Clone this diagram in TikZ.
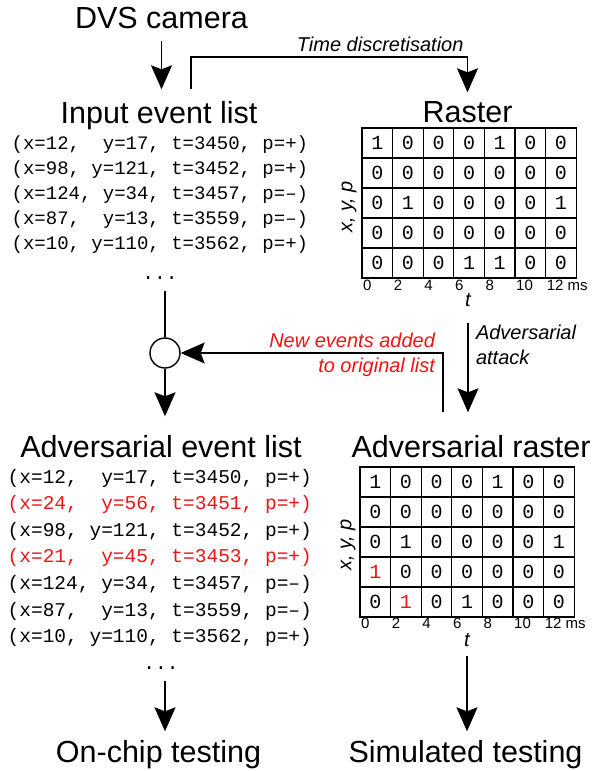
\documentclass[tikz,border=0pt]{standalone}
\usepackage{fontspec}
\setmainfont{Liberation Sans}
\setmonofont{Liberation Mono}
\usetikzlibrary{arrows.meta,positioning}
\definecolor{addred}{RGB}{238,20,20}

\begin{document}
\begin{tikzpicture}[x=1pt,y=-1pt,line width=1.4pt,>={Stealth[length=24pt,width=21pt,inset=4pt]},
	title/.style={font=\fontsize{30.5}{32}\selectfont,anchor=base,inner sep=0pt,text height=22pt,text depth=6.4pt},
	evt/.style={font=\fontsize{19.5}{22}\ttfamily,anchor=base west,inner sep=0pt},
	cell/.style={draw,line width=1.2pt,minimum width=30.6pt,minimum height=30pt,inner sep=0pt,font=\fontsize{20}{20}\ttfamily},
	tick/.style={font=\fontsize{15}{15}\selectfont,anchor=west,inner sep=0.5pt},
	axis/.style={font=\fontsize{20}{20}\itshape,inner sep=0pt},
	note/.style={font=\fontsize{20}{25}\itshape,align=left}]

	\useasboundingbox (0,0) rectangle (592,771);

	\node[title] (cam) at (161.5,28) {DVS camera};
	\node[title] (intitle) at (159,123) {Input event list};
	\node[title] (raster) at (467.5,122) {Raster};
	\node[title] (advtitle) at (161,457) {Adversarial event list};
	\node[title] (advraster) at (471,457) {Adversarial raster};
	\node[title] (onchip) at (158.5,762) {On-chip testing};
	\node[title] (simtest) at (465.5,762) {Simulated testing};

	\foreach \txt [count=\i] in {{(x=12,~~y=17, t=3450, p=+)},{(x=98, y=121, t=3452, p=+)},{(x=124, y=34, t=3457, p=–)},{(x=87,~~y=13, t=3559, p=–)},{(x=10, y=110, t=3562, p=+)}}
		\node[evt,font=\fontsize{19}{22}\ttfamily] (in-\i) at (11,149+25*\i-25) {\txt};
	\node[evt,anchor=base] (dots-in) at (160,279) {...};

	\foreach \txt [count=\i] in {{(x=12,~~y=17, t=3450, p=+)},{\color{addred}(x=24,~~y=56, t=3451, p=+)},{(x=98, y=121, t=3452, p=+)},{\color{addred}(x=21,~~y=45, t=3453, p=+)},{(x=124, y=34, t=3457, p=–)},{(x=87,~~y=13, t=3559, p=–)},{(x=10, y=110, t=3562, p=+)}}
		\node[evt] (adv-\i) at (7,483+26.6*\i-26.6) {\txt};
	\node[evt,anchor=base] (dots-adv) at (161,669) {...};

	\foreach \row [count=\r] in {{1,0,0,0,1,0,0},{0,0,0,0,0,0,0},{0,1,0,0,0,0,1},{0,0,0,0,0,0,0},{0,0,0,1,1,0,0}}
		\foreach \v [count=\c] in \row
			\node[cell] (ras-\r-\c) at (362+30.6*\c-15.3,128+30*\r-15) {\v};
	\foreach \lab [count=\k from 0] in {0,2,4,6,8,10,12 ms}
		\node[tick] (tk-\k) at (362+30.6*\k,285) {\lab};
	\node[axis,rotate=90] (ry) at (349,207) {x, y, p};
	\node[axis,anchor=base] (rt) at (468,306) {t};

	\foreach \row [count=\r] in {{1,0,0,0,1,0,0},{0,0,0,0,0,0,0},{0,1,0,0,0,0,1},{\textcolor{addred}{1},0,0,0,0,0,0},{0,\textcolor{addred}{1},0,1,0,0,0}}
		\foreach \v [count=\c] in \row
			\node[cell] (adr-\r-\c) at (360+30.6*\c-15.3,467+30*\r-15) {\v};
	\foreach \lab [count=\k from 0] in {0,2,4,6,8,10,12 ms}
		\node[tick] (atk-\k) at (360+30.6*\k,623) {\lab};
	\node[axis,rotate=90] (ay) at (348,545) {x, y, p};
	\node[axis,anchor=base] (art) at (467,646) {t};

	\node[draw,circle,fill=white,minimum size=30pt,inner sep=0pt] (merge) at (165,353) {};

	\draw[->,shorten <=6pt,shorten >=11pt] (cam.south) -- (cam.south |- intitle.north);
	\draw[->,shorten <=11pt,shorten >=7pt] ([xshift=32pt]intitle.north) -- ++(0,-43.5) -| node[pos=0.5,anchor=south east,font=\fontsize{20}{20}\itshape,yshift=1pt] (disc) {Time discretisation} (raster.north);
	\draw[shorten <=11pt] (merge |- dots-in.south) -- (merge.north);
	\draw[->,shorten >=18pt] (merge.south) -- (merge |- advtitle.north);
	\draw[->,shorten <=22pt] ([xshift=-28pt]advraster.north) |- node[pos=0.5,anchor=east,note,align=right,text=addred,xshift=-4pt,yshift=-2pt] (newev) {New events added\\to original list} (merge.east);
	\draw[->,shorten <=16pt,shorten >=22pt] (rt.south) -- node[pos=0.3,anchor=west,note,xshift=4pt] (attack) {Adversarial\\attack} (rt.south |- advraster.north);
	\draw[->,shorten <=11pt,shorten >=8pt] ([xshift=4pt]dots-adv.south) -- ([xshift=4pt]dots-adv.south |- onchip.north);
	\draw[->,shorten <=9pt,shorten >=8pt] (art.south) -- (art.south |- simtest.north);
\end{tikzpicture}
\end{document}
